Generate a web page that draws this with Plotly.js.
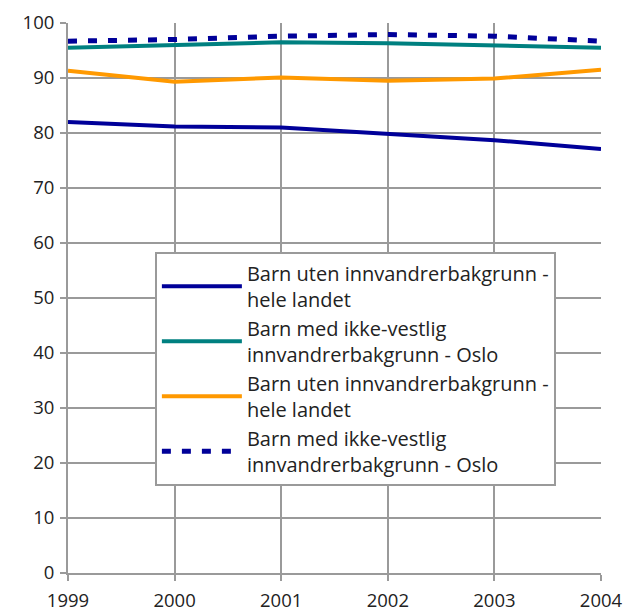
<!DOCTYPE html>
<html><head><meta charset="utf-8">
<script src="https://cdn.plot.ly/plotly-3.0.1.min.js"></script>
<style>html,body{margin:0;padding:0;background:#fff}</style>
</head><body><div id="chart" style="width:640px;height:615px"></div>
<script>
const years = [1999, 2000, 2001, 2002, 2003, 2004];
const utenHeleLandet1 = [82.0, 81.2, 81.0, 79.8, 78.7, 77.1];
const ikkeVestligOslo1 = [95.5, 96.0, 96.5, 96.3, 95.9, 95.5];
const utenHeleLandet2 = [91.3, 89.3, 90.1, 89.5, 89.9, 91.5];
const ikkeVestligOslo2 = [96.7, 97.0, 97.6, 97.9, 97.6, 96.7];
const names = [
  "Barn uten innvandrerbakgrunn -<br>hele landet",
  "Barn med ikke-vestlig<br>innvandrerbakgrunn - Oslo",
  "Barn uten innvandrerbakgrunn -<br>hele landet",
  "Barn med ikke-vestlig<br>innvandrerbakgrunn - Oslo"
];
const traces = [
  {x: years, y: utenHeleLandet1, name: names[0], mode: "lines", line: {color: "#000099", width: 4}},
  {x: years, y: ikkeVestligOslo1, name: names[1], mode: "lines", line: {color: "#008080", width: 4}},
  {x: years, y: utenHeleLandet2, name: names[2], mode: "lines", line: {color: "#FF9900", width: 4}},
  {x: years, y: ikkeVestligOslo2, name: names[3], mode: "lines", line: {color: "#000099", width: 5, dash: "9px,11px"}}
];
const axisCommon = {
  showgrid: true, gridcolor: "#9a9a9a", gridwidth: 2,
  showline: true, linecolor: "#9a9a9a", linewidth: 2,
  ticks: "outside", ticklen: 6, tickcolor: "#9a9a9a", tickwidth: 2,
  zeroline: false,
  tickfont: {family: "Open Sans, Noto Sans, sans-serif", size: 18.5, color: "#222"}
};
const layout = {
  width: 640, height: 615,
  margin: {l: 68, r: 39, t: 23, b: 42},
  paper_bgcolor: "#fff", plot_bgcolor: "#fff",
  showlegend: true,
  xaxis: Object.assign({}, axisCommon, {range: [1999, 2004], tickvals: years, ticktext: years.map(String), ticklabelstandoff: 4}),
  yaxis: Object.assign({}, axisCommon, {range: [0, 100], dtick: 10, tick0: 0, ticklabelstandoff: 2}),
  legend: {
    x: 0.163, y: 0.584, xanchor: "left", yanchor: "top",
    bgcolor: "#fff", bordercolor: "#9a9a9a", borderwidth: 2,
    font: {family: "Open Sans, Noto Sans, sans-serif", size: 20, color: "#222"},
    itemwidth: 80, tracegroupgap: 0
  }
};
Plotly.newPlot("chart", traces, layout, {displayModeBar: false, staticPlot: true});
</script>
</body></html>
